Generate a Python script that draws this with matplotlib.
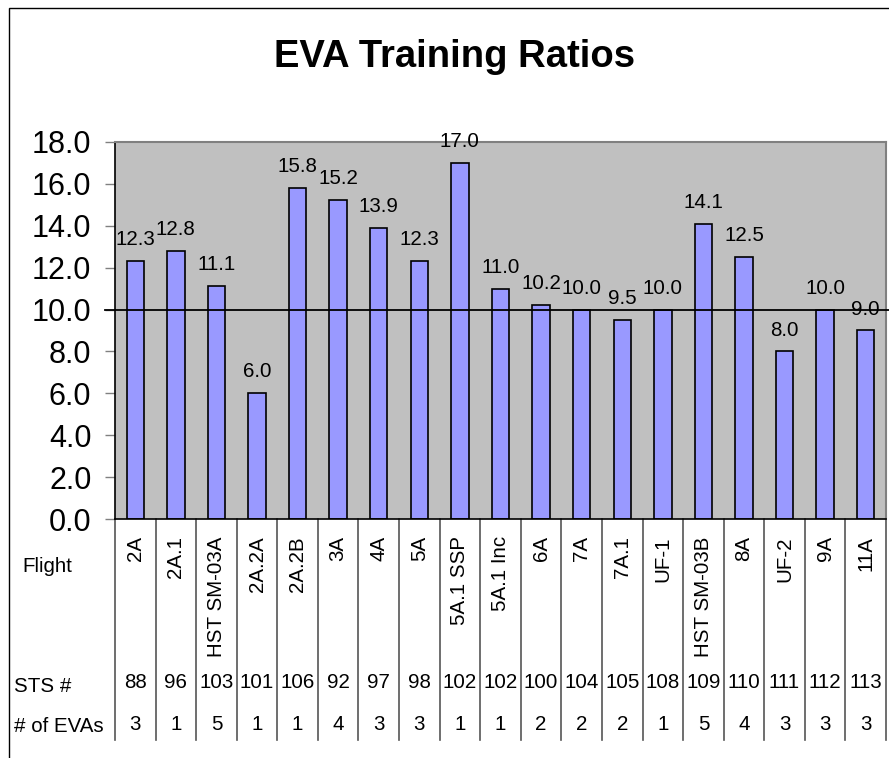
import matplotlib
matplotlib.use("Agg")
import matplotlib.pyplot as plt
import matplotlib.transforms as mtransforms
from matplotlib.patches import Rectangle

plt.rcParams['font.family'] = ['Liberation Sans', 'DejaVu Sans']

# data
flights = ['2A', '2A.1', 'HST SM-03A', '2A.2A', '2A.2B', '3A', '4A', '5A',
           '5A.1 SSP', '5A.1 Inc', '6A', '7A', '7A.1', 'UF-1', 'HST SM-03B',
           '8A', 'UF-2', '9A', '11A']
ratios = [12.3, 12.8, 11.1, 6.0, 15.8, 15.2, 13.9, 12.3, 17.0, 11.0, 10.2,
          10.0, 9.5, 10.0, 14.1, 12.5, 8.0, 10.0, 9.0]
sts_numbers = [88, 96, 103, 101, 106, 92, 97, 98, 102, 102, 100, 104, 105,
               108, 109, 110, 111, 112, 113]
num_evas = [3, 1, 5, 1, 1, 4, 3, 3, 1, 1, 2, 2, 2, 1, 5, 4, 3, 3, 3]
threshold = 10.0
y_ticks = [0, 2, 4, 6, 8, 10, 12, 14, 16, 18]

W, H = 889, 758
fig = plt.figure(figsize=(W / 100, H / 100), dpi=100)
ax = fig.add_axes([115 / W, 1 - 519.3 / H, 771 / W, 377.6 / H])

# outer chart frame (cropped at right and bottom in the original)
fig.patches.append(Rectangle((9 / W, -0.2), 1.2, 1.2 - 8 / H, transform=fig.transFigure,
                             fill=False, edgecolor='black', linewidth=1.0))

fig.text(454.5 / W, 1 - 57 / H, 'EVA Training Ratios', ha='center', va='center',
         fontsize=27.5, fontweight='bold')

x = list(range(len(flights)))
ax.set_facecolor('#C0C0C0')
ax.bar(x, ratios, width=0.43, color='#9999FF', edgecolor='black', linewidth=1.2, zorder=2)

fs = 14.8
for xi, v in zip(x, ratios):
    ax.annotate(f'{v:.1f}', (xi, v), xytext=(0, 11.5), textcoords='offset points',
                ha='center', va='baseline', fontsize=fs, zorder=4)

# reference line at 10, runs a little past the plot area
ax.plot([-0.013, 1.01], [threshold, threshold], color='black', linewidth=1.3,
        transform=mtransforms.blended_transform_factory(ax.transAxes, ax.transData),
        clip_on=False, zorder=3)

ax.set_xlim(-0.5, len(flights) - 0.5)
ax.set_ylim(0, 18)
ax.set_yticks(y_ticks)
ax.set_yticklabels([f'{t:.1f}' for t in y_ticks], fontsize=22)
ax.tick_params(axis='y', length=7, width=1, color='#808080', pad=10)
ax.set_xticks([])

for side in ['top', 'right']:
    ax.spines[side].set_color('#808080')
    ax.spines[side].set_linewidth(1.5)
for side in ['left', 'bottom']:
    ax.spines[side].set_color('black')
    ax.spines[side].set_linewidth(1.2)

# data table under the chart
tr = mtransforms.blended_transform_factory(ax.transData, ax.transAxes)
for b in range(len(flights) + 1):
    ax.plot([b - 0.5, b - 0.5], [0, -0.584], color='#555555', linewidth=1.2,
            transform=tr, clip_on=False)

for xi, name, sts, ev in zip(x, flights, sts_numbers, num_evas):
    ax.text(xi, -0.045, name, rotation=90, ha='center', va='top', fontsize=fs,
            transform=tr)
    ax.text(xi, -0.433, str(sts), ha='center', va='center', fontsize=fs, transform=tr)
    ax.text(xi, -0.544, str(ev), ha='center', va='center', fontsize=fs, transform=tr)

fig.text(22 / W, 1 - 567 / H, 'Flight', ha='left', va='center', fontsize=fs)
fig.text(14 / W, 1 - 686 / H, 'STS #', ha='left', va='center', fontsize=fs)
fig.text(14 / W, 1 - 726 / H, '# of EVAs', ha='left', va='center', fontsize=fs)

fig.savefig('out.png', dpi=100)
